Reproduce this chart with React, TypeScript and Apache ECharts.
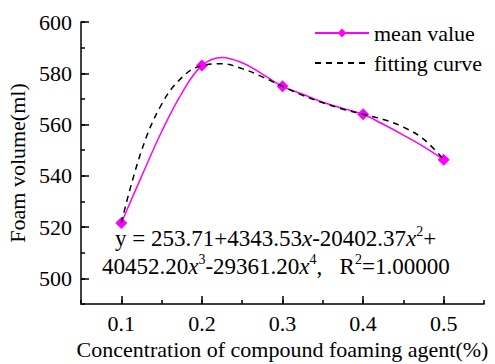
import React, { useEffect, useRef } from "react";
import * as echarts from "echarts";

// measured mean values
const concentrations = [0.1, 0.2, 0.3, 0.4, 0.5];
const meanValues = [521.6, 583.0, 574.9, 564.0, 546.3];

// the drawn mean-value spline
const meanCurveX = [0.1, 0.125, 0.15, 0.175, 0.2, 0.225, 0.25, 0.275, 0.3, 0.325, 0.35, 0.375, 0.4, 0.425, 0.45, 0.475, 0.5];
const meanCurveValues = [521.6, 539.7, 557.2, 572.2, 583.0, 586.2, 584.1, 579.7, 574.9, 571.8, 568.7, 566.3, 564.0, 560.1, 555.9, 551.4, 546.3];

// the fitting curve
const fitX = [0.1, 0.125, 0.15, 0.175, 0.2, 0.225, 0.25, 0.275, 0.3, 0.325, 0.35, 0.375, 0.4, 0.425, 0.45, 0.475, 0.5];
const fitValues = [521.6, 549.7, 567.9, 578.3, 583.0, 583.7, 581.8, 578.6, 574.9, 571.4, 568.5, 566.0, 564.0, 562.0, 559.0, 554.3, 546.3];

const xLabels = [0.1, 0.2, 0.3, 0.4, 0.5];
const yLabels = [500, 520, 540, 560, 580, 600];

const seriesNames = ["mean value", "fitting curve"];

const FONT = "Liberation Serif";

export default function App() {
  const ref = useRef<HTMLDivElement>(null);
  useEffect(() => {
    document.body.style.margin = "0";
    const chart = echarts.init(ref.current!, null, { renderer: "svg" });
    const n = { fontSize: 23, fontFamily: FONT, color: "#000", lineHeight: 28 };
    const it = { fontSize: 23, fontFamily: FONT, color: "#000", fontStyle: "italic", lineHeight: 28 };
    const s = { fontSize: 14, fontFamily: FONT, color: "#000", lineHeight: 16, verticalAlign: "top" };
    const rich = { n, i: it, s };
    const txt = { fontSize: 22, fontFamily: FONT, color: "#000" };

    const meanData = meanCurveX.map((x, i) => {
      const k = concentrations.indexOf(x);
      return k >= 0
        ? { value: [x, meanValues[k]] }
        : { value: [x, meanCurveValues[i]], symbol: "none" };
    });

    chart.setOption({
      animation: false,
      textStyle: { fontFamily: FONT },
      grid: { left: 81, right: 11, top: 22, bottom: 60, outerBoundsMode: "none" },
      legend: {
        data: [{ name: seriesNames[0] }, { name: seriesNames[1], itemStyle: { opacity: 0 } }],
        orient: "vertical",
        left: 314,
        top: 22,
        padding: 0,
        itemWidth: 54,
        itemHeight: 11,
        itemGap: 8,
        textStyle: { ...txt, lineHeight: 22 },
      },
      xAxis: [
        {
          type: "value",
          min: 0.05,
          max: 0.55,
          interval: 0.05,
          name: "Concentration of compound foaming agent(%)",
          nameLocation: "middle",
          nameGap: 27,
          nameTextStyle: txt,
          axisLine: { show: true, lineStyle: { color: "#000", width: 1.5 } },
          axisTick: { show: true, inside: true, length: 8, lineStyle: { color: "#000", width: 1.5 }, customValues: xLabels },
          axisLabel: { ...txt, margin: 8, customValues: xLabels, formatter: (v: number) => v.toFixed(1) },
          splitLine: { show: false },
        },
        {
          type: "value",
          min: 0.05,
          max: 0.55,
          interval: 0.05,
          position: "bottom",
          axisLine: { show: false },
          axisTick: { show: true, inside: true, length: 4, lineStyle: { color: "#000", width: 1.5 } },
          axisLabel: { show: false },
          splitLine: { show: false },
        },
      ],
      yAxis: [
        {
          type: "value",
          min: 490,
          max: 600,
          interval: 10,
          name: "Foam volume(ml)",
          nameLocation: "middle",
          nameGap: 48,
          nameRotate: 90,
          nameTextStyle: txt,
          axisLine: { show: true, lineStyle: { color: "#000", width: 1.5 } },
          axisTick: { show: true, inside: true, length: 8, lineStyle: { color: "#000", width: 1.5 }, customValues: yLabels },
          axisLabel: { ...txt, margin: 9, customValues: yLabels },
          splitLine: { show: false },
        },
        {
          type: "value",
          min: 490,
          max: 600,
          interval: 10,
          position: "left",
          axisLine: { show: false },
          axisTick: { show: true, inside: true, length: 4, lineStyle: { color: "#000", width: 1.5 } },
          axisLabel: { show: false },
          splitLine: { show: false },
        },
      ],
      series: [
        {
          name: seriesNames[0],
          type: "line",
          data: meanData,
          smooth: 0.4,
          symbol: "diamond",
          symbolSize: 12,
          color: "#FF00FF",
          lineStyle: { color: "#FF00FF", width: 1.5 },
          itemStyle: { color: "#FF00FF" },
          z: 3,
        },
        {
          name: seriesNames[1],
          type: "line",
          data: fitX.map((x, i) => [x, fitValues[i]]),
          smooth: 0.4,
          symbol: "none",
          color: "#000",
          lineStyle: { color: "#000", width: 1.5, type: [6, 5] },
          z: 4,
        },
      ],
      graphic: [
        {
          type: "text",
          x: 115,
          y: 238,
          style: {
            text: "{n|y = 253.71+4343.53}{i|x}{n|-20402.37}{i|x}{s|2}{n|+}",
            rich,
            verticalAlign: "middle",
          },
        },
        {
          type: "text",
          x: 102,
          y: 266,
          style: {
            text: "{n|40452.20}{i|x}{s|3}{n|-29361.20}{i|x}{s|4}{n|,   R}{s|2}{n|=1.00000}",
            rich,
            verticalAlign: "middle",
          },
        },
      ],
    });
    return () => chart.dispose();
  }, []);
  return <div ref={ref} style={{ width: 495, height: 364 }} />;
}
